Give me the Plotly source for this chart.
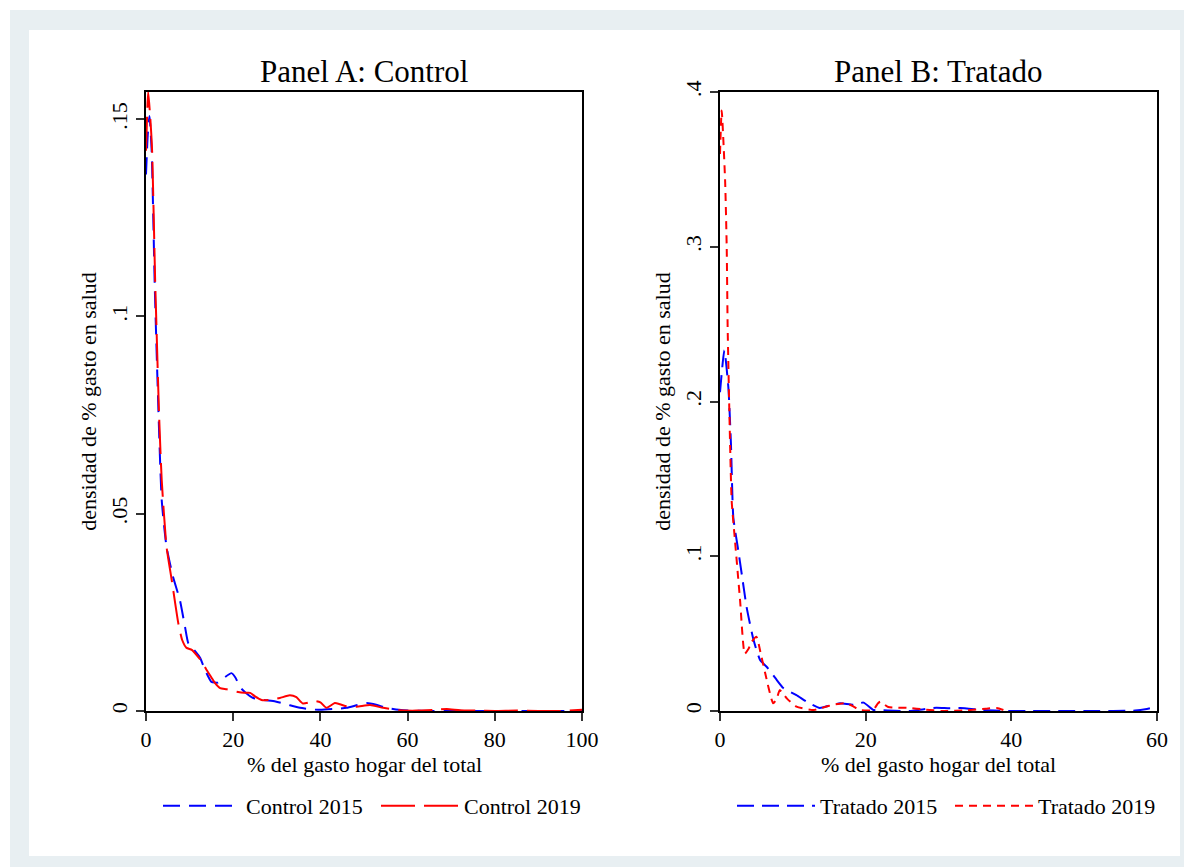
import plotly.graph_objects as go

W, H = 1184, 867

# ---------------- data ----------------
ctrl15_x = [0, 0.4, 0.8, 1.3, 2.0, 2.6, 3.6, 4.7, 6.2, 7.8, 9.0, 9.7, 11.0, 12.4, 13.5, 15.0,
            16.5, 18.0, 19.6, 20.5, 21.6, 23.0, 24.6, 27.0, 29.7, 32.5, 35.3, 38.0, 40.0, 43.0,
            46.0, 48.5, 50.6, 53.0, 55.2, 58.0, 60, 65, 70, 75, 80, 85, 90, 95, 100]
ctrl15_y = [0.136, 0.146, 0.1508, 0.142, 0.108, 0.085, 0.0535, 0.0417, 0.034, 0.028, 0.021,
            0.0172, 0.0155, 0.0135, 0.0105, 0.0074, 0.0072, 0.0085, 0.0096, 0.0085, 0.006,
            0.0045, 0.0033, 0.0028, 0.0024, 0.0016, 0.0008, 0.0004, 0.0003, 0.0005, 0.0008,
            0.0015, 0.002, 0.0015, 0.0008, 0.0003, 0.0001, 0.0, 0.0001, 0.0, 0.0, 0.0, 0.0,
            0.0, 0.0]

ctrl19_x = [0, 0.5, 1.0, 1.4, 2.1, 2.4, 3.0, 3.6, 4.7, 5.9, 7.4, 8.3, 9.3, 10.5, 11.6, 12.8,
            13.9, 15.0, 15.8, 17.0, 18.5, 20.8, 22.5, 23.9, 25.0, 26.5, 28.5, 30.7, 33.0, 34.5,
            36.0, 38.8, 40.0, 41.4, 43.3, 44.5, 46.0, 48.3, 51.4, 54.4, 58.0, 62, 66, 69, 72,
            76, 80, 85, 90, 95, 100]
ctrl19_y = [0.142, 0.1569, 0.150, 0.142, 0.109, 0.0975, 0.075, 0.0586, 0.0417, 0.0332, 0.0223,
            0.018, 0.016, 0.0155, 0.0142, 0.0125, 0.0104, 0.0085, 0.0071, 0.0058, 0.0055,
            0.0049, 0.0046, 0.0046, 0.0037, 0.0028, 0.0028, 0.0033, 0.0040, 0.0035, 0.0019,
            0.0025, 0.0022, 0.0008, 0.0020, 0.0017, 0.0012, 0.0011, 0.0015, 0.0008, 0.0002,
            0.0001, 0.0003, 0.0005, 0.0002, 0.0001, 0.0, 0.0001, 0.0, 0.0, 0.0003]

trat15_x = [0, 0.6, 1.15, 1.5, 1.83, 2.5, 3.0, 3.66, 4.6, 5.5, 6.4, 7.8, 8.7, 10.5, 11.9, 13.7,
            15.0, 16.5, 18.3, 19.7, 21.1, 22.0, 24.0, 26.0, 28.0, 29.7, 31.5, 33.0, 36.2, 39.0,
            42, 45, 48, 51, 54, 57, 58.6, 59.3]
trat15_y = [0.206, 0.233, 0.209, 0.173, 0.125, 0.104, 0.088, 0.067, 0.046, 0.033, 0.0286, 0.020,
            0.0148, 0.0103, 0.006, 0.002, 0.0035, 0.005, 0.004, 0.0054, 0.0006, 0.0006, 0.0002,
            0.0, 0.0012, 0.0021, 0.0018, 0.002, 0.0006, 0.0, 0.0, 0.0, 0.0, 0.0, 0.0, 0.0003,
            0.0013, 0.002]

trat19_x = [0, 0.23, 0.7, 0.92, 1.05, 1.3, 1.6, 2.06, 2.75, 3.4, 3.9, 4.35, 5.0, 5.6, 6.2, 7.3,
            7.8, 8.2, 9.2, 10.5, 12.8, 14.0, 15.5, 17.3, 18.3, 19.2, 21.0, 21.7, 22.0, 23.1,
            26.0, 28.0, 30.6, 34.0, 36.5, 38.0, 39.3]
trat19_y = [0.36, 0.388, 0.343, 0.30, 0.248, 0.19, 0.136, 0.11, 0.072, 0.037, 0.040, 0.0447,
            0.048, 0.037, 0.0245, 0.005, 0.008, 0.0135, 0.008, 0.0028, 0.0006, 0.002, 0.004,
            0.005, 0.003, 0.0006, 0.0006, 0.005, 0.006, 0.0026, 0.002, 0.001, 0.0, 0.0005,
            0.0015, 0.002, 0.0]

a_xticks = [0, 20, 40, 60, 80, 100]
a_yticks = [0, 0.05, 0.1, 0.15]
a_yticktext = ["0", ".05", ".1", ".15"]
b_xticks = [0, 20, 40, 60]
b_yticks = [0, 0.1, 0.2, 0.3, 0.4]
b_yticktext = ["0", ".1", ".2", ".3", ".4"]

title_a = "Panel A: Control"
title_b = "Panel B: Tratado"
xtitle = "% del gasto hogar del total"
ytitle = "densidad de % gasto en salud"

# ---------------- figure ----------------
FONT = "Liberation Serif"
FS = 22
BLUE = "#0000ff"
RED = "#ff0000"

fig = go.Figure()

fig.add_trace(go.Scatter(x=ctrl15_x, y=ctrl15_y, mode="lines", name="Control 2015",
                         line=dict(color=BLUE, width=2, dash="17px,9px", shape="spline", smoothing=0.5),
                         xaxis="x", yaxis="y", legend="legend"))
fig.add_trace(go.Scatter(x=ctrl19_x, y=ctrl19_y, mode="lines", name="Control 2019",
                         line=dict(color=RED, width=2, dash="34px,9px", shape="spline", smoothing=0.5),
                         xaxis="x", yaxis="y", legend="legend"))
fig.add_trace(go.Scatter(x=trat15_x, y=trat15_y, mode="lines", name="Tratado 2015",
                         line=dict(color=BLUE, width=2, dash="17px,8px", shape="spline", smoothing=0.5),
                         xaxis="x2", yaxis="y2", legend="legend2"))
fig.add_trace(go.Scatter(x=trat19_x, y=trat19_y, mode="lines", name="Tratado 2019",
                         line=dict(color=RED, width=2, dash="8px,6px", shape="spline", smoothing=0.5),
                         xaxis="x2", yaxis="y2", legend="legend2"))

def px_x(p):
    return p / W

def px_y(p):
    return 1 - p / H

ydom = [px_y(711), px_y(92)]

axis_common = dict(showline=True, linecolor="black", linewidth=2, mirror=True,
                   ticks="outside", ticklen=8, tickwidth=1.5, tickcolor="#333",
                   showgrid=False, zeroline=False, automargin=False,
                   tickfont=dict(family=FONT, size=FS, color="black"))

leg_common = dict(orientation="h", xref="paper", yref="paper",
                  xanchor="left", yanchor="middle", bgcolor="rgba(0,0,0,0)",
                  font=dict(family=FONT, size=FS), itemwidth=78, entrywidth=125)

fig.update_layout(
    width=W, height=H,
    margin=dict(l=0, r=0, t=0, b=0),
    paper_bgcolor="white", plot_bgcolor="white",
    font=dict(family=FONT, size=FS, color="black"),
    xaxis=dict(domain=[px_x(146), px_x(582)], range=[0, 100], tickvals=a_xticks,
               anchor="y", **axis_common),
    yaxis=dict(domain=ydom, range=[0, 0.1569], tickvals=a_yticks, ticktext=a_yticktext,
               tickangle=-90, anchor="x", title=dict(text=ytitle, standoff=5,
                                                     font=dict(family=FONT, size=FS)), **axis_common),
    xaxis2=dict(domain=[px_x(720), px_x(1157)], range=[0, 60], tickvals=b_xticks,
                anchor="y2", **axis_common),
    yaxis2=dict(domain=ydom, range=[0, 0.4], tickvals=b_yticks, ticktext=b_yticktext,
                tickangle=-90, anchor="x2", title=dict(text=ytitle, standoff=5,
                                                       font=dict(family=FONT, size=FS)), **axis_common),
    legend=dict(x=px_x(158), y=px_y(806), **leg_common),
    legend2=dict(x=px_x(732), y=px_y(806), **leg_common),
    showlegend=True,
)

# background frame (Stata-like)
fig.add_shape(type="rect", xref="paper", yref="paper", layer="below",
              x0=px_x(10), x1=1.0, y0=0.0, y1=px_y(10),
              fillcolor="#e8eff2", line=dict(width=0))
fig.add_shape(type="rect", xref="paper", yref="paper", layer="below",
              x0=px_x(29), x1=px_x(1180), y0=px_y(856), y1=px_y(30),
              fillcolor="white", line=dict(width=0))

# panel titles and x-axis titles
for txt, cx, cy, size in [(title_a, 364, 72, 31), (title_b, 938, 72, 31),
                          (xtitle, 364, 764, FS), (xtitle, 938, 764, FS)]:
    fig.add_annotation(text=txt, xref="paper", yref="paper", x=px_x(cx), y=px_y(cy),
                       showarrow=False, xanchor="center", yanchor="middle",
                       font=dict(family=FONT, size=size, color="black"))

fig.write_html("out.html", config={"displayModeBar": False},
               post_script="document.body.style.margin='0';document.body.style.overflow='hidden';")
